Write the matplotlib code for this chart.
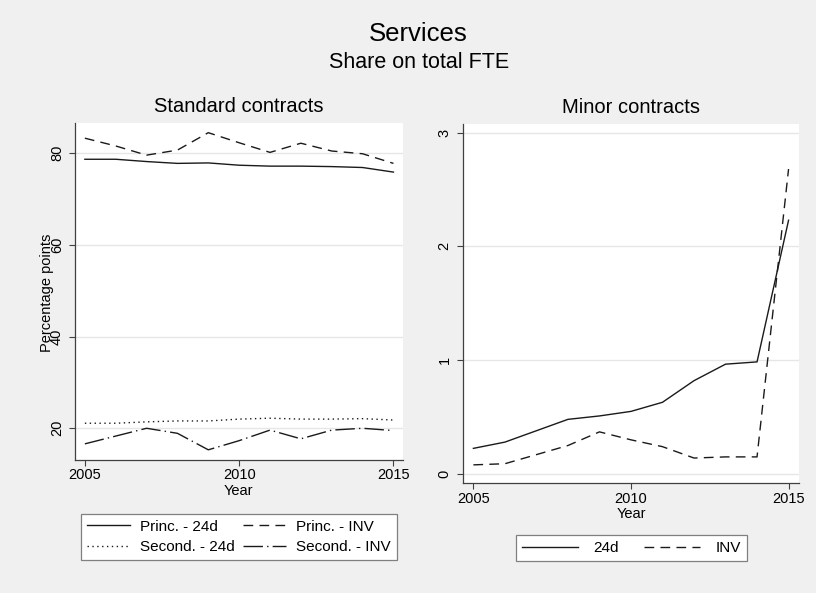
import matplotlib.pyplot as plt
import numpy as np

plt.rcParams['font.family'] = ['Liberation Sans', 'DejaVu Sans']

years = np.arange(2005, 2016)

# Standard contracts (share of total FTE, percentage points)
princ_24d = [78.7, 78.7, 78.2, 77.8, 77.9, 77.4, 77.2, 77.2, 77.1, 76.9, 75.9]
princ_inv = [83.3, 81.6, 79.6, 80.7, 84.5, 82.3, 80.2, 82.2, 80.5, 79.9, 77.8]
second_24d = [21.1, 21.1, 21.4, 21.6, 21.6, 22.0, 22.2, 22.0, 22.0, 22.1, 21.8]
second_inv = [16.6, 18.3, 20.0, 18.9, 15.3, 17.3, 19.6, 17.7, 19.6, 20.0, 19.5]

# Minor contracts
minor_24d = [0.225, 0.28, 0.38, 0.48, 0.51, 0.55, 0.63, 0.82, 0.965, 0.985, 2.23]
minor_inv = [0.08, 0.09, 0.17, 0.25, 0.37, 0.30, 0.24, 0.14, 0.15, 0.15, 2.68]

bg = '#f0f0f0'
ink = '#1a1a1a'
grid_c = '#e6e6e6'

fig = plt.figure(figsize=(8.16, 5.93), dpi=100, facecolor=bg)
ax1 = fig.add_axes([0.0919, 0.2243, 0.4016, 0.5678])
ax2 = fig.add_axes([0.567, 0.185, 0.4125, 0.6059])

dash = (0, (7, 4.5))
dot = (0, (1, 2.5))
dashdot = (0, (14, 3, 1, 3))

l1, = ax1.plot(years, princ_24d, color=ink, lw=1.0, ls='-', label='Princ. - 24d')
l2, = ax1.plot(years, princ_inv, color=ink, lw=1.0, ls=dash, label='Princ. - INV')
l3, = ax1.plot(years, second_24d, color=ink, lw=1.0, ls=dot, label='Second. - 24d')
l4, = ax1.plot(years, second_inv, color=ink, lw=1.0, ls=dashdot, label='Second. - INV')

ax2.plot(years, minor_24d, color=ink, lw=1.0, ls='-', label='24d')
ax2.plot(years, minor_inv, color=ink, lw=1.0, ls=dash, label='INV')

ax1.set_xlim(2004.68, 2015.30)
ax1.set_ylim(13.08, 86.55)
ax1.set_yticks([20, 40, 60, 80])
ax2.set_xlim(2004.66, 2015.34)
ax2.set_ylim(-0.082, 3.076)
ax2.set_yticks([0, 1, 2, 3])

for ax in (ax1, ax2):
    ax.set_facecolor('white')
    ax.set_xticks([2005, 2010, 2015])
    ax.grid(axis='y', color=grid_c, lw=1.0)
    ax.set_axisbelow(True)
    for s in ('top', 'right'):
        ax.spines[s].set_visible(False)
    for s in ('left', 'bottom'):
        ax.spines[s].set_color('#404040')
        ax.spines[s].set_linewidth(0.9)
    ax.tick_params(length=4, width=0.8, color='#404040', labelsize=10.5, pad=2)
    ax.tick_params(axis='y', labelrotation=90, pad=4)
    for lab in ax.get_yticklabels():
        lab.set_va('center')
    ax.set_xlabel('Year', fontsize=10.5, labelpad=1)

ax1.set_title('Standard contracts', fontsize=14.5, pad=8)
ax2.set_title('Minor contracts', fontsize=14.5, pad=8)

fig.text(47.5 / 816, 1 - 292.5 / 593, 'Percentage points', rotation=90,
         ha='center', va='center', fontsize=10.5)

fig.text(0.513, 1 - 34 / 593, 'Services', ha='center', va='center', fontsize=18.5)
fig.text(0.513, 1 - 63 / 593, 'Share on total FTE', ha='center', va='center', fontsize=15.5)

# row-wise order like the original legend
leg1 = ax1.legend([l1, l3, l2, l4], [l1.get_label(), l3.get_label(), l2.get_label(), l4.get_label()],
                  loc='center', bbox_to_anchor=(0.2927, 0.0946), bbox_transform=fig.transFigure,
                  ncol=2, fontsize=11, handlelength=2.8, columnspacing=0.5, handletextpad=0.7,
                  fancybox=False, edgecolor='#808080', framealpha=1, borderpad=0.4, labelspacing=0.4)
leg2 = ax2.legend(loc='center', bbox_to_anchor=(0.7737, 0.0754), bbox_transform=fig.transFigure,
                  ncol=2, fontsize=11, handlelength=3.7, columnspacing=1.6, handletextpad=1.0,
                  fancybox=False, edgecolor='#808080', framealpha=1, borderpad=0.4)
for lg in (leg1, leg2):
    lg.get_frame().set_linewidth(0.9)

fig.savefig('out.png', dpi=100, facecolor=bg)
